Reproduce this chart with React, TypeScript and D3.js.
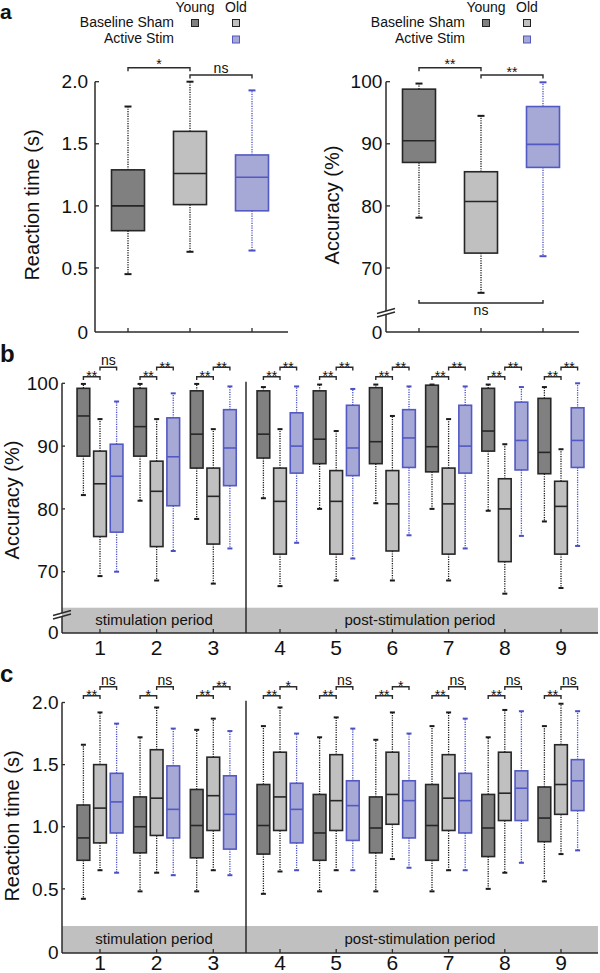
import React from "react";
import * as d3 from "d3";

const FONT = "'Liberation Sans', Arial, Helvetica, sans-serif";

const conditions = ["Young Sham", "Old Sham", "Old Stim"];
const legendCols = ["Young", "Old"];
const legendRows = ["Baseline Sham", "Active Stim"];

// [low whisker, q1, median, q3, high whisker]
const rtA_youngSham = [0.45, 0.8, 1.0, 1.29, 1.8];
const rtA_oldSham = [0.63, 1.01, 1.26, 1.6, 2.0];
const rtA_oldStim = [0.64, 0.96, 1.23, 1.41, 1.93];
const accA_youngSham = [78.1, 87.0, 90.5, 98.8, 99.7];
const accA_oldSham = [66.0, 72.4, 80.7, 85.5, 94.5];
const accA_oldStim = [71.9, 86.2, 89.9, 96.0, 99.9];
const sigA_rt = ["*", "ns"];
const sigA_acc = ["**", "**", "ns"];

const sessions = [1, 2, 3, 4, 5, 6, 7, 8, 9];
const periodLabels = ["stimulation period", "post-stimulation period"];

const accB_youngSham = [
  [82.2, 88.4, 94.8, 99.2, 99.9],
  [81.3, 88.4, 93.1, 99.2, 99.9],
  [78.4, 86.5, 91.9, 98.8, 99.9],
  [81.7, 88.1, 91.9, 98.8, 99.4],
  [80.0, 87.2, 91.1, 98.8, 99.8],
  [80.9, 87.2, 90.7, 99.3, 99.8],
  [80.0, 85.9, 89.9, 99.7, 99.8],
  [79.7, 89.2, 92.4, 99.2, 99.8],
  [78.0, 85.6, 89.0, 97.6, 99.4],
];
const accB_oldSham = [
  [69.3, 75.6, 84.0, 89.2, 94.3],
  [68.6, 74.0, 82.8, 87.6, 94.3],
  [68.1, 74.4, 82.0, 86.5, 92.7],
  [67.7, 72.8, 81.2, 86.5, 92.7],
  [68.6, 72.8, 81.2, 86.1, 92.4],
  [68.6, 73.3, 80.8, 86.1, 94.8],
  [68.6, 72.8, 80.8, 86.5, 94.3],
  [66.5, 71.6, 80.0, 84.8, 90.3],
  [67.4, 72.8, 80.4, 84.4, 89.5],
];
const accB_oldStim = [
  [70.0, 76.3, 85.2, 90.3, 97.1],
  [73.3, 80.5, 88.3, 94.5, 98.4],
  [73.7, 83.7, 89.7, 95.8, 99.5],
  [74.6, 85.7, 90.0, 95.3, 99.5],
  [72.1, 85.3, 89.7, 96.5, 99.1],
  [75.8, 86.6, 91.3, 95.8, 99.5],
  [73.7, 85.7, 90.0, 96.5, 99.5],
  [75.7, 86.2, 90.9, 97.0, 99.4],
  [74.1, 86.6, 90.9, 96.1, 100],
];
const sigB_youngOld = ["**", "**", "**", "**", "**", "**", "**", "**", "**"];
const sigB_oldStim = ["ns", "**", "**", "**", "**", "**", "**", "**", "**"];

const rtC_youngSham = [
  [0.42, 0.73, 0.91, 1.175, 1.66],
  [0.48, 0.79, 1.0, 1.24, 1.72],
  [0.48, 0.75, 1.01, 1.3, 1.78],
  [0.46, 0.78, 1.01, 1.34, 1.81],
  [0.48, 0.73, 0.95, 1.26, 1.72],
  [0.48, 0.79, 0.99, 1.24, 1.7],
  [0.48, 0.73, 1.01, 1.34, 1.81],
  [0.5, 0.76, 0.99, 1.26, 1.72],
  [0.56, 0.88, 1.07, 1.32, 1.81],
];
const rtC_oldSham = [
  [0.65, 0.87, 1.15, 1.5, 1.92],
  [0.63, 0.93, 1.23, 1.62, 1.96],
  [0.65, 0.97, 1.25, 1.56, 1.87],
  [0.64, 0.97, 1.24, 1.6, 1.96],
  [0.65, 0.97, 1.21, 1.58, 1.88],
  [0.74, 1.02, 1.26, 1.6, 1.92],
  [0.65, 0.97, 1.23, 1.58, 1.92],
  [0.63, 1.05, 1.27, 1.6, 1.94],
  [0.78, 1.1, 1.34, 1.66, 1.99],
];
const rtC_oldStim = [
  [0.63, 0.95, 1.2, 1.43, 1.83],
  [0.61, 0.91, 1.14, 1.49, 1.79],
  [0.61, 0.82, 1.1, 1.41, 1.77],
  [0.65, 0.87, 1.14, 1.35, 1.75],
  [0.65, 0.89, 1.17, 1.37, 1.79],
  [0.67, 0.91, 1.21, 1.37, 1.75],
  [0.65, 0.95, 1.21, 1.43, 1.87],
  [0.71, 1.05, 1.31, 1.45, 1.93],
  [0.81, 1.13, 1.37, 1.54, 1.93],
];
const sigC_youngOld = ["**", "*", "**", "**", "**", "**", "**", "**", "**"];
const sigC_oldStim = ["ns", "ns", "**", "*", "ns", "*", "ns", "ns", "ns"];

const rtTicks = [0.5, 1.0, 1.5, 2.0];
const accTicks = [70, 80, 90, 100];

const AX = "#2b2b2b";
const STYLES = [
  { fill: "#808080", stroke: "#262626", whisker: "#1a1a1a" },
  { fill: "#c0c0c0", stroke: "#262626", whisker: "#1a1a1a" },
  { fill: "#a6a9d6", stroke: "#5359c2", whisker: "#4a50c4" },
];

type Scale = (v: number) => number;

function Box({ cx, w, y, s, st, capW }: { cx: number; w: number; y: Scale; s: number[]; st: any; capW: number }) {
  const [lo, q1, med, q3, hi] = s;
  return (
    <g>
      <line x1={cx} x2={cx} y1={y(q3)} y2={y(hi)} stroke={st.whisker} strokeWidth={1.3} strokeDasharray="1.2,1.2" />
      <line x1={cx} x2={cx} y1={y(q1)} y2={y(lo)} stroke={st.whisker} strokeWidth={1.3} strokeDasharray="1.2,1.2" />
      <line x1={cx - capW / 2} x2={cx + capW / 2} y1={y(hi)} y2={y(hi)} stroke={st.whisker} strokeWidth={2} />
      <line x1={cx - capW / 2} x2={cx + capW / 2} y1={y(lo)} y2={y(lo)} stroke={st.whisker} strokeWidth={2} />
      <rect x={cx - w / 2} y={y(q3)} width={w} height={y(q1) - y(q3)} fill={st.fill} stroke={st.stroke} strokeWidth={1.6} />
      <line x1={cx - w / 2} x2={cx + w / 2} y1={y(med)} y2={y(med)} stroke={st.stroke} strokeWidth={1.6} />
    </g>
  );
}

function Bracket({ x1, x2, y, tick, label, starDy, nsDy }: any) {
  const isNs = label === "ns";
  const ty = isNs ? y + nsDy : y + starDy;
  return (
    <g>
      <path d={`M${x1},${y + tick}V${y}H${x2}V${y + tick}`} fill="none" stroke={AX} strokeWidth={1.4} />
      <text x={(x1 + x2) / 2} y={ty} textAnchor="middle" fontSize={14} fontFamily={FONT} fill="#111">
        {label}
      </text>
    </g>
  );
}

function YTitle({ x, y, text }: { x: number; y: number; text: string }) {
  return (
    <text transform={`translate(${x},${y}) rotate(-90)`} textAnchor="middle" fontSize={20} fontFamily={FONT} fill="#111">
      {text}
    </text>
  );
}

function BreakMark({ x, y }: { x: number; y: number }) {
  return (
    <g>
      <line x1={x - 9} y1={y + 1.5} x2={x + 9} y2={y - 3.5} stroke={AX} strokeWidth={1.3} />
      <line x1={x - 9} y1={y + 5} x2={x + 9} y2={y} stroke={AX} strokeWidth={1.3} />
    </g>
  );
}

function PanelA({ axisX, xEnd, y, ticks, fmt, data, title, titleX, tickGap, broken }: any) {
  const xPos = d3.scalePoint<string>().domain(conditions).range([axisX + 33, axisX + 157]);
  const xAxisY = 332;
  const topY = y(ticks[ticks.length - 1]);
  const brkY = 312;
  return (
    <g>
      {legendCols.map((c, i) => (
        <text key={c} x={axisX + 100 + i * 41} y={11.5} textAnchor="middle" fontSize={14} fontFamily={FONT} fill="#111">
          {c}
        </text>
      ))}
      {legendRows.map((r, i) => (
        <text key={r} x={axisX + 79} y={26.8 + i * 16.5} textAnchor="end" fontSize={14} fontFamily={FONT} fill="#111">
          {r}
        </text>
      ))}
      <rect x={axisX + 96.5} y={19.5} width={7} height={7} fill={STYLES[0].fill} stroke="#222" strokeWidth={1} />
      <rect x={axisX + 137.5} y={19.5} width={7} height={7} fill={STYLES[1].fill} stroke="#222" strokeWidth={1} />
      <rect x={axisX + 137.5} y={36} width={7} height={7} fill={STYLES[2].fill} stroke={STYLES[2].stroke} strokeWidth={1} />

      {broken ? (
        <g>
          <line x1={axisX} x2={axisX} y1={topY} y2={brkY - 1} stroke={AX} strokeWidth={1.5} />
          <line x1={axisX} x2={axisX} y1={brkY + 3} y2={xAxisY} stroke={AX} strokeWidth={1.5} />
          <BreakMark x={axisX} y={brkY} />
        </g>
      ) : (
        <line x1={axisX} x2={axisX} y1={topY} y2={xAxisY} stroke={AX} strokeWidth={1.5} />
      )}
      <line x1={axisX} x2={xEnd} y1={xAxisY} y2={xAxisY} stroke={AX} strokeWidth={1.5} />
      {ticks.map((t: number) => (
        <g key={t}>
          <line x1={axisX} x2={axisX + 4} y1={y(t)} y2={y(t)} stroke={AX} strokeWidth={1.3} />
          <text x={axisX - tickGap} y={y(t)} dy="0.35em" textAnchor="end" fontSize={19} fontFamily={FONT} fill="#111">
            {fmt(t)}
          </text>
        </g>
      ))}
      <text x={axisX - tickGap} y={xAxisY} dy="0.35em" textAnchor="end" fontSize={19} fontFamily={FONT} fill="#111">
        0
      </text>
      {conditions.map((c) => (
        <line key={c} x1={xPos(c)} x2={xPos(c)} y1={xAxisY} y2={xAxisY - 4} stroke={AX} strokeWidth={1.3} />
      ))}
      <YTitle x={titleX} y={205} text={title} />
      {data.map((s: number[], i: number) => (
        <Box key={i} cx={xPos(conditions[i])!} w={33} y={y} s={s} st={STYLES[i]} capW={7} />
      ))}
    </g>
  );
}

function PanelBC({ y, ticks, fmt, dataSets, sigYO, sigOS, title, titleY, top, xAxisY, bandTop, bandTextY, labelY, broken, brkY, bYO, bOS }: any) {
  const axisX = 62;
  const xEnd = 598;
  const sepX = 246;
  const xGroup = d3.scaleLinear().domain([1, 3, 4, 9]).range([100, 213.3, 280, 561]);
  const xOff = d3.scalePoint<string>().domain(conditions).range([-16.6, 16.6]);
  const topY = y(ticks[ticks.length - 1]);
  return (
    <g>
      <rect x={axisX} y={bandTop} width={xEnd - axisX} height={xAxisY - bandTop} fill="#c0c0c0" />
      <text x={(axisX + sepX) / 2} y={bandTextY} textAnchor="middle" fontSize={15} fontFamily={FONT} fill="#111">
        {periodLabels[0]}
      </text>
      <text x={420} y={bandTextY} textAnchor="middle" fontSize={15} fontFamily={FONT} fill="#111">
        {periodLabels[1]}
      </text>
      {broken ? (
        <g>
          <line x1={axisX} x2={axisX} y1={topY} y2={brkY - 1} stroke={AX} strokeWidth={1.5} />
          <line x1={axisX} x2={axisX} y1={brkY + 3} y2={xAxisY} stroke={AX} strokeWidth={1.5} />
          <BreakMark x={axisX} y={brkY} />
        </g>
      ) : (
        <line x1={axisX} x2={axisX} y1={topY} y2={xAxisY} stroke={AX} strokeWidth={1.5} />
      )}
      <line x1={sepX} x2={sepX} y1={top} y2={xAxisY} stroke={AX} strokeWidth={1.5} />
      <line x1={axisX} x2={xEnd} y1={xAxisY} y2={xAxisY} stroke={AX} strokeWidth={1.5} />
      {ticks.map((t: number) => (
        <g key={t}>
          <line x1={axisX} x2={axisX + 3} y1={y(t)} y2={y(t)} stroke={AX} strokeWidth={1.3} />
          <text x={axisX - 3.5} y={y(t)} dy="0.35em" textAnchor="end" fontSize={19} fontFamily={FONT} fill="#111">
            {fmt(t)}
          </text>
        </g>
      ))}
      <text x={axisX - 3.5} y={xAxisY} dy="0.3em" textAnchor="end" fontSize={19} fontFamily={FONT} fill="#111">
        0
      </text>
      <YTitle x={18.5} y={titleY} text={title} />
      {sessions.map((s, gi) => {
        const cx = xGroup(s);
        return (
          <g key={s}>
            <line x1={cx} x2={cx} y1={xAxisY} y2={xAxisY - 4} stroke={AX} strokeWidth={1.3} />
            <text x={cx} y={labelY} textAnchor="middle" fontSize={21} fontFamily={FONT} fill="#111">
              {s}
            </text>
            {dataSets.map((ds: number[][], i: number) => (
              <Box key={i} cx={cx + xOff(conditions[i])!} w={12.7} y={y} s={ds[gi]} st={STYLES[i]} capW={5} />
            ))}
            <Bracket x1={cx + xOff(conditions[0])!} x2={cx} y={bYO} tick={3.3} label={sigYO[gi]} starDy={4.5} nsDy={-2} />
            <Bracket x1={cx} x2={cx + xOff(conditions[2])!} y={bOS} tick={3.3} label={sigOS[gi]} starDy={4.5} nsDy={-2} />
          </g>
        );
      })}
    </g>
  );
}

export default function App() {
  const yRtA = d3.scaleLinear().domain([0, 2]).range([330, 81.7]);
  const yAccA = d3.scaleLinear().domain([70, 100]).range([268, 81.7]);
  const yAccB = d3.scaleLinear().domain([70, 100]).range([571.7, 383.3]);
  const yRtC = d3.scaleLinear().domain([0, 2]).range([951, 702.5]);
  const fmt1 = (t: number) => t.toFixed(1);
  const fmt0 = (t: number) => String(t);
  const xA = d3.scalePoint<string>().domain(conditions).range([128, 252]);
  const xA2 = d3.scalePoint<string>().domain(conditions).range([419, 543]);

  return (
    <svg width={600} height={973} style={{ position: "absolute", left: 0, top: 0, background: "#fff" }}>
      <rect width={600} height={973} fill="#fff" />
      <text x={0} y={19} fontSize={21} fontWeight="bold" fontFamily={FONT} fill="#111">a</text>
      <text x={0} y={362} fontSize={24} fontWeight="bold" fontFamily={FONT} fill="#111">b</text>
      <text x={0} y={682} fontSize={24} fontWeight="bold" fontFamily={FONT} fill="#111">c</text>

      <PanelA axisX={95} xEnd={288} y={yRtA} ticks={rtTicks} fmt={fmt1} data={[rtA_youngSham, rtA_oldSham, rtA_oldStim]}
        title="Reaction time (s)" titleX={39} tickGap={7} broken={false} />
      <Bracket x1={xA(conditions[0])} x2={xA(conditions[1])} y={67.7} tick={3.5} label={sigA_rt[0]} starDy={1.6} nsDy={-2.3} />
      <Bracket x1={xA(conditions[1])} x2={xA(conditions[2])} y={75} tick={3.5} label={sigA_rt[1]} starDy={1.6} nsDy={-2.3} />

      <PanelA axisX={386} xEnd={579} y={yAccA} ticks={accTicks} fmt={fmt0} data={[accA_youngSham, accA_oldSham, accA_oldStim]}
        title="Accuracy (%)" titleX={339} tickGap={3.7} broken={true} />
      <Bracket x1={xA2(conditions[0])} x2={xA2(conditions[1])} y={67.7} tick={3.5} label={sigA_acc[0]} starDy={1.7} nsDy={-2.3} />
      <Bracket x1={xA2(conditions[1])} x2={xA2(conditions[2])} y={75} tick={3.5} label={sigA_acc[1]} starDy={1.7} nsDy={-2.3} />
      <g>
        <path d={`M${xA2(conditions[0])},300V303H${xA2(conditions[2])}V300`} fill="none" stroke={AX} strokeWidth={1.4} />
        <text x={xA2(conditions[1])} y={315} textAnchor="middle" fontSize={14} fontFamily={FONT} fill="#111">{sigA_acc[2]}</text>
      </g>

      <PanelBC y={yAccB} ticks={accTicks} fmt={fmt0} dataSets={[accB_youngSham, accB_oldSham, accB_oldStim]}
        sigYO={sigB_youngOld} sigOS={sigB_oldStim} title="Accuracy (%)" titleY={500} top={381.7} xAxisY={633}
        bandTop={607.7} bandTextY={624.5} labelY={655} broken={true} brkY={614} bYO={376.7} bOS={367.3} />

      <PanelBC y={yRtC} ticks={rtTicks} fmt={fmt1} dataSets={[rtC_youngSham, rtC_oldSham, rtC_oldStim]}
        sigYO={sigC_youngOld} sigOS={sigC_oldStim} title="Reaction time (s)" titleY={826} top={700.7} xAxisY={953}
        bandTop={926} bandTextY={943.5} labelY={970} broken={false} brkY={0} bYO={695.7} bOS={686.7} />
    </svg>
  );
}
